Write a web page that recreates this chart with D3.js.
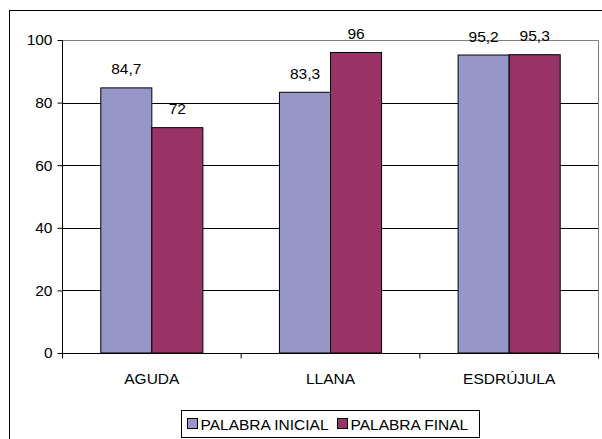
<!DOCTYPE html>
<html>
<head>
<meta charset="utf-8">
<script src="https://cdn.jsdelivr.net/npm/d3@7"></script>
<style>
  body { margin: 0; background: #fff; }
  text { font-family: "Liberation Sans", Arial, sans-serif; fill: #000; }
</style>
</head>
<body>
<script>
// data
const categories = ["AGUDA", "LLANA", "ESDRÚJULA"];
const seriesNames = ["PALABRA INICIAL", "PALABRA FINAL"];
const inicial = [84.7, 83.3, 95.2];
const final = [72, 96, 95.3];
const yTicks = [0, 20, 40, 60, 80, 100];

const colors = ["#9696c9", "#993366"];
const fontSize = "15.5px";

const svg = d3.select("body").append("svg").attr("width", 602).attr("height", 439);

// chart frame (clipped on the right and bottom in the reference)
svg.append("rect").attr("x", 9.5).attr("y", 10.5).attr("width", 700).attr("height", 500)
  .attr("fill", "none").attr("stroke", "#000");

const plot = { left: 62.5, right: 598.5, top: 40, bottom: 353 };

const x0 = d3.scaleBand().domain(categories).range([plot.left, plot.right]);
// gap width 150% -> the two bars fill 2/3.5 of each category
const groupW = x0.bandwidth() * 2 / 3.5;
const x1 = d3.scaleBand().domain(seriesNames).range([0, groupW]);
const y = d3.scaleLinear().domain([0, 100]).range([plot.bottom, plot.top]);

// gridlines
svg.append("g").selectAll("line").data(yTicks.filter(d => d > 0 && d < 100)).enter().append("line")
  .attr("x1", plot.left).attr("x2", plot.right)
  .attr("y1", d => Math.round(y(d)) + 0.5).attr("y2", d => Math.round(y(d)) + 0.5)
  .attr("stroke", "#000");

// plot area border (top and right)
svg.append("path")
  .attr("d", `M${plot.left},${y(100) + 0.5}H${plot.right}V${plot.bottom}`)
  .attr("fill", "none").attr("stroke", "#808080");

// bars
const rows = categories.map((c, i) => ({ cat: c, vals: [inicial[i], final[i]] }));
const groups = svg.append("g").selectAll("g").data(rows).enter().append("g")
  .attr("transform", d => `translate(${x0(d.cat) + (x0.bandwidth() - groupW) / 2},0)`);

groups.selectAll("rect").data(d => d.vals.map((v, j) => ({ name: seriesNames[j], v: v, j: j })))
  .enter().append("rect")
  .attr("x", d => x1(d.name))
  .attr("y", d => y(d.v))
  .attr("width", x1.bandwidth())
  .attr("height", d => y(0) - y(d.v))
  .attr("fill", d => colors[d.j])
  .attr("stroke", "#000").attr("stroke-width", 1);

groups.selectAll("text.val").data(d => d.vals.map((v, j) => ({ name: seriesNames[j], v: v })))
  .enter().append("text").attr("class", "val")
  .attr("x", d => x1(d.name) + x1.bandwidth() / 2)
  .attr("y", d => y(d.v) - 13.5)
  .attr("text-anchor", "middle").style("font-size", fontSize)
  .text(d => String(d.v).replace(".", ","));

// y axis
const yAxis = d3.axisLeft(y).tickValues(yTicks).tickSize(5).tickPadding(5).tickFormat(d3.format("d"));
const gy = svg.append("g").attr("transform", `translate(${plot.left},0)`).call(yAxis);
gy.select(".domain").attr("stroke", "#000").attr("d", `M0,${plot.top}V${plot.bottom}`);
gy.selectAll(".tick line").attr("stroke", "#000");
gy.selectAll("text").style("font-size", fontSize).attr("font-family", null);

// x axis: tick marks at category boundaries
const gx = svg.append("g").attr("transform", `translate(0,${plot.bottom + 0.5})`);
gx.append("line").attr("x1", plot.left).attr("x2", plot.right).attr("stroke", "#000");
const bounds = categories.map(c => x0(c)).concat([plot.right]);
gx.selectAll("line.tk").data(bounds).enter().append("line").attr("class", "tk")
  .attr("x1", d => d).attr("x2", d => d).attr("y1", 0).attr("y2", 5).attr("stroke", "#000");
gx.selectAll("text").data(categories).enter().append("text")
  .attr("x", d => x0(d) + x0.bandwidth() / 2).attr("y", 30)
  .attr("text-anchor", "middle").style("font-size", fontSize)
  .text(d => d);

// legend
const legend = svg.append("g").attr("transform", "translate(181.5,410.5)");
legend.append("rect").attr("width", 298).attr("height", 27).attr("fill", "#fff").attr("stroke", "#000");
const itemX = [6, 156];
const items = legend.selectAll("g").data(seriesNames).enter().append("g")
  .attr("transform", (d, i) => `translate(${itemX[i]},0)`);
items.append("rect").attr("x", 0).attr("y", 8).attr("width", 10).attr("height", 10)
  .attr("fill", (d, i) => colors[i]).attr("stroke", "#000");
items.append("text").attr("x", 13).attr("y", 19).style("font-size", fontSize).text(d => d);
</script>
</body>
</html>
